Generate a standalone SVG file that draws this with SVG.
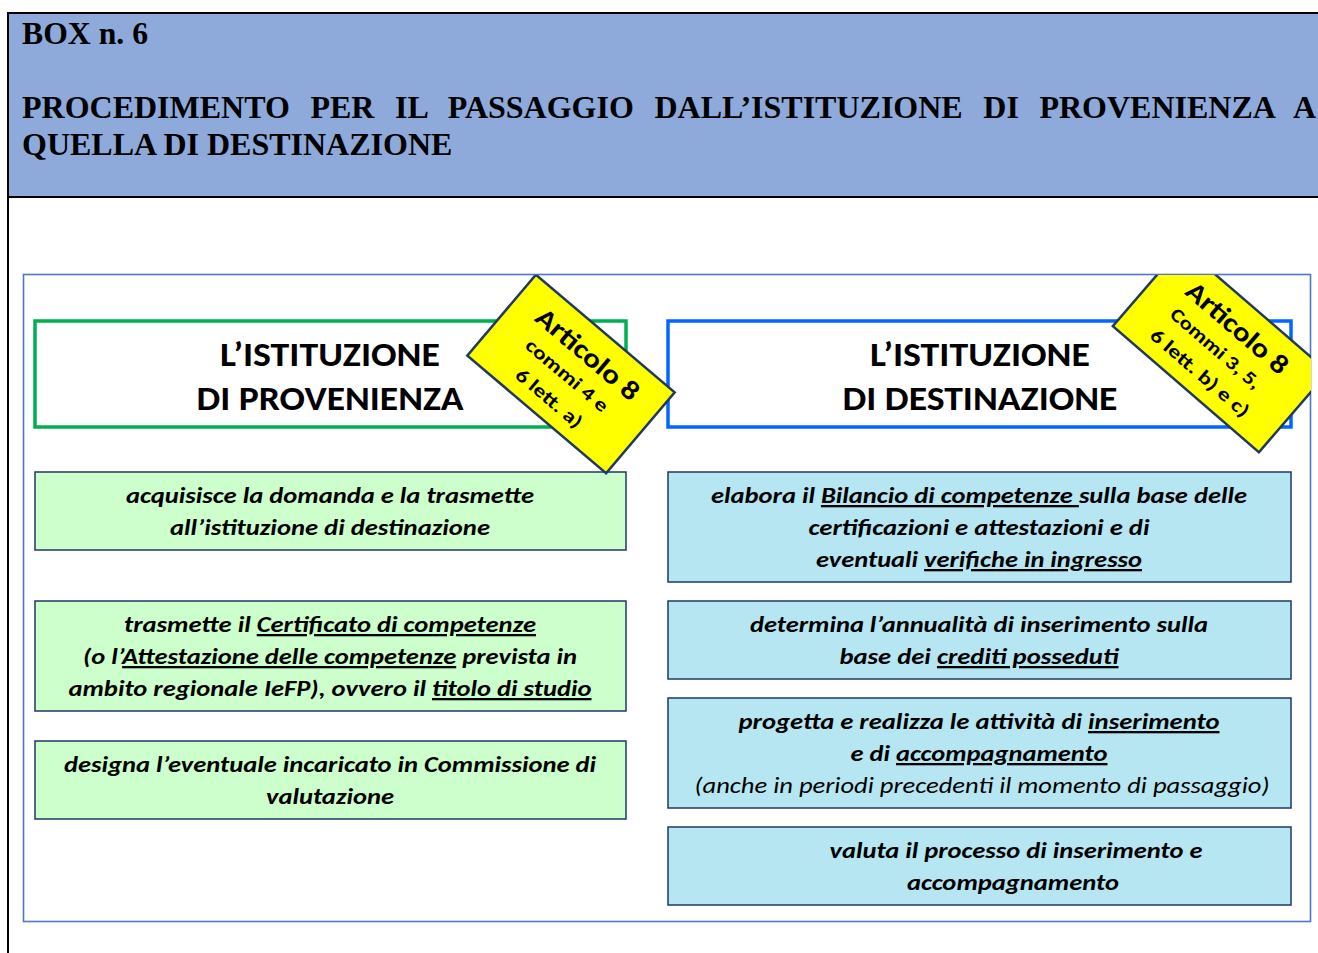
<svg xmlns="http://www.w3.org/2000/svg" width="1318" height="953" viewBox="0 0 1318 953">
<style>
.hdr{font-family:"Liberation Serif","Times New Roman",serif;font-weight:bold;font-size:32px;fill:#000}
.ttl{font-family:Carlito,Lato,"Liberation Sans",sans-serif;font-weight:bold;font-size:35px;fill:#000;text-anchor:middle}
.bt{font-family:Carlito,Lato,"Liberation Sans",sans-serif;font-weight:bold;font-style:italic;font-size:23px;fill:#000;text-anchor:middle}
.it{font-family:Carlito,Lato,"Liberation Sans",sans-serif;font-style:italic;font-size:23px;fill:#000;text-anchor:middle}
.u{text-decoration:underline}
.gbox{fill:#CCFFCC;stroke:#1F3864;stroke-width:1.5}
.bbox{fill:#B5E6F2;stroke:#1F3864;stroke-width:1.5}
.tag{fill:#FFFF00;stroke:#1F3864;stroke-width:2.5}
.tg1{font-family:Carlito,Lato,"Liberation Sans",sans-serif;font-weight:bold;font-size:27px;fill:#000;text-anchor:middle}
.tg2{font-family:Carlito,Lato,"Liberation Sans",sans-serif;font-weight:bold;font-size:19px;fill:#000;text-anchor:middle}
</style>
<defs>
<clipPath id="area"><rect x="23" y="275" width="1288" height="647"/></clipPath>
</defs>
<rect x="0" y="0" width="1318" height="953" fill="#fff"/>
<g id="header">
<rect x="8" y="13" width="1320" height="184" fill="#8EAADB" stroke="#000" stroke-width="2"/>
<line x1="8" y1="13" x2="8" y2="953" stroke="#000" stroke-width="2"/>
<text class="hdr" x="22" y="44" textLength="126" lengthAdjust="spacingAndGlyphs">BOX n. 6</text>
<text class="hdr" x="22" y="118" word-spacing="12.6">PROCEDIMENTO PER IL PASSAGGIO DALL’ISTITUZIONE DI PROVENIENZA A</text>
<text class="hdr" x="22" y="155">QUELLA DI DESTINAZIONE</text>
</g>
<rect id="frame" x="23.5" y="274.5" width="1287" height="647" fill="none" stroke="#4F77C8" stroke-width="1.6"/>
<g id="provenienza">
<rect x="35" y="321" width="591" height="106" fill="#fff" stroke="#00B050" stroke-width="3.5"/>
<text class="ttl" x="330" y="366" textLength="220" lengthAdjust="spacingAndGlyphs">L’ISTITUZIONE</text>
<text class="ttl" x="330" y="410" textLength="267" lengthAdjust="spacingAndGlyphs">DI PROVENIENZA</text>
</g>
<g id="destinazione">
<rect x="668" y="321" width="623" height="106" fill="#fff" stroke="#0066FF" stroke-width="3.5"/>
<text class="ttl" x="980" y="366" textLength="220" lengthAdjust="spacingAndGlyphs">L’ISTITUZIONE</text>
<text class="ttl" x="980" y="410" textLength="275" lengthAdjust="spacingAndGlyphs">DI DESTINAZIONE</text>
</g>
<g id="p1">
<rect class="gbox" x="35" y="472" width="591" height="78"/>
<text class="bt" x="330" y="503" textLength="408" lengthAdjust="spacingAndGlyphs">acquisisce la domanda e la trasmette</text>
<text class="bt" x="330" y="535" textLength="320" lengthAdjust="spacingAndGlyphs">all’istituzione di destinazione</text>
</g>
<g id="p2">
<rect class="gbox" x="35" y="601" width="591" height="110"/>
<text class="bt" x="330" y="632" textLength="412" lengthAdjust="spacingAndGlyphs">trasmette il <tspan class="u">Certificato di competenze</tspan></text>
<text class="bt" x="330" y="664" textLength="494" lengthAdjust="spacingAndGlyphs">(o l’<tspan class="u">Attestazione delle competenze</tspan> prevista in</text>
<text class="bt" x="330" y="696" textLength="523" lengthAdjust="spacingAndGlyphs">ambito regionale IeFP), ovvero il <tspan class="u">titolo di studio</tspan></text>
</g>
<g id="p3">
<rect class="gbox" x="35" y="741" width="591" height="78"/>
<text class="bt" x="330" y="772" textLength="532" lengthAdjust="spacingAndGlyphs">designa l’eventuale incaricato in Commissione di</text>
<text class="bt" x="330" y="804" textLength="128" lengthAdjust="spacingAndGlyphs">valutazione</text>
</g>
<g id="d1">
<rect class="bbox" x="668" y="472" width="623" height="110"/>
<text class="bt" x="979" y="503" textLength="536" lengthAdjust="spacingAndGlyphs">elabora il <tspan class="u">Bilancio di competenze </tspan>sulla base delle</text>
<text class="bt" x="979" y="535" textLength="341" lengthAdjust="spacingAndGlyphs">certificazioni e attestazioni e di</text>
<text class="bt" x="979" y="567" textLength="326" lengthAdjust="spacingAndGlyphs">eventuali <tspan class="u">verifiche in ingresso</tspan></text>
</g>
<g id="d2">
<rect class="bbox" x="668" y="601" width="623" height="78"/>
<text class="bt" x="979" y="632" textLength="458" lengthAdjust="spacingAndGlyphs">determina l’annualità di inserimento sulla</text>
<text class="bt" x="979" y="664" textLength="279" lengthAdjust="spacingAndGlyphs">base dei <tspan class="u">crediti posseduti</tspan></text>
</g>
<g id="d3">
<rect class="bbox" x="668" y="698" width="623" height="110"/>
<text class="bt" x="979" y="729" textLength="481" lengthAdjust="spacingAndGlyphs">progetta e realizza le attività di <tspan class="u">inserimento</tspan></text>
<text class="bt" x="979" y="761" textLength="257" lengthAdjust="spacingAndGlyphs">e di <tspan class="u">accompagnamento</tspan></text>
<text class="it" x="982" y="793" textLength="575" lengthAdjust="spacingAndGlyphs">(anche in periodi precedenti il momento di passaggio)</text>
</g>
<g id="d4">
<rect class="bbox" x="668" y="827" width="623" height="78"/>
<text class="bt" x="1016" y="858" textLength="373" lengthAdjust="spacingAndGlyphs">valuta il processo di inserimento e</text>
<text class="bt" x="1013" y="890" textLength="212" lengthAdjust="spacingAndGlyphs">accompagnamento</text>
</g>
<g id="tag-provenienza" clip-path="url(#area)">
<g transform="translate(571,374) rotate(40.3)">
<rect class="tag" x="-91" y="-53" width="182" height="106"/>
<text class="tg1" x="0" y="-17" textLength="127" lengthAdjust="spacingAndGlyphs">Articolo 8</text>
<text class="tg2" x="-2" y="10" textLength="102" lengthAdjust="spacingAndGlyphs">commi 4 e</text>
<text class="tg2" x="-1" y="39" textLength="81" lengthAdjust="spacingAndGlyphs">6 lett. a)</text>
</g>
</g>
<g id="tag-destinazione" clip-path="url(#area)">
<g transform="translate(1220.5,349) rotate(40.8)">
<rect class="tag" x="-96.5" y="-53" width="193" height="106"/>
<text class="tg1" x="-1" y="-18" textLength="126" lengthAdjust="spacingAndGlyphs">Articolo 8</text>
<text class="tg2" x="-4" y="9" textLength="113" lengthAdjust="spacingAndGlyphs">Commi 3, 5,</text>
<text class="tg2" x="0" y="38" textLength="124" lengthAdjust="spacingAndGlyphs">6 lett. b) e c)</text>
</g>
</g>
<g id="connectors"/>
</svg>
